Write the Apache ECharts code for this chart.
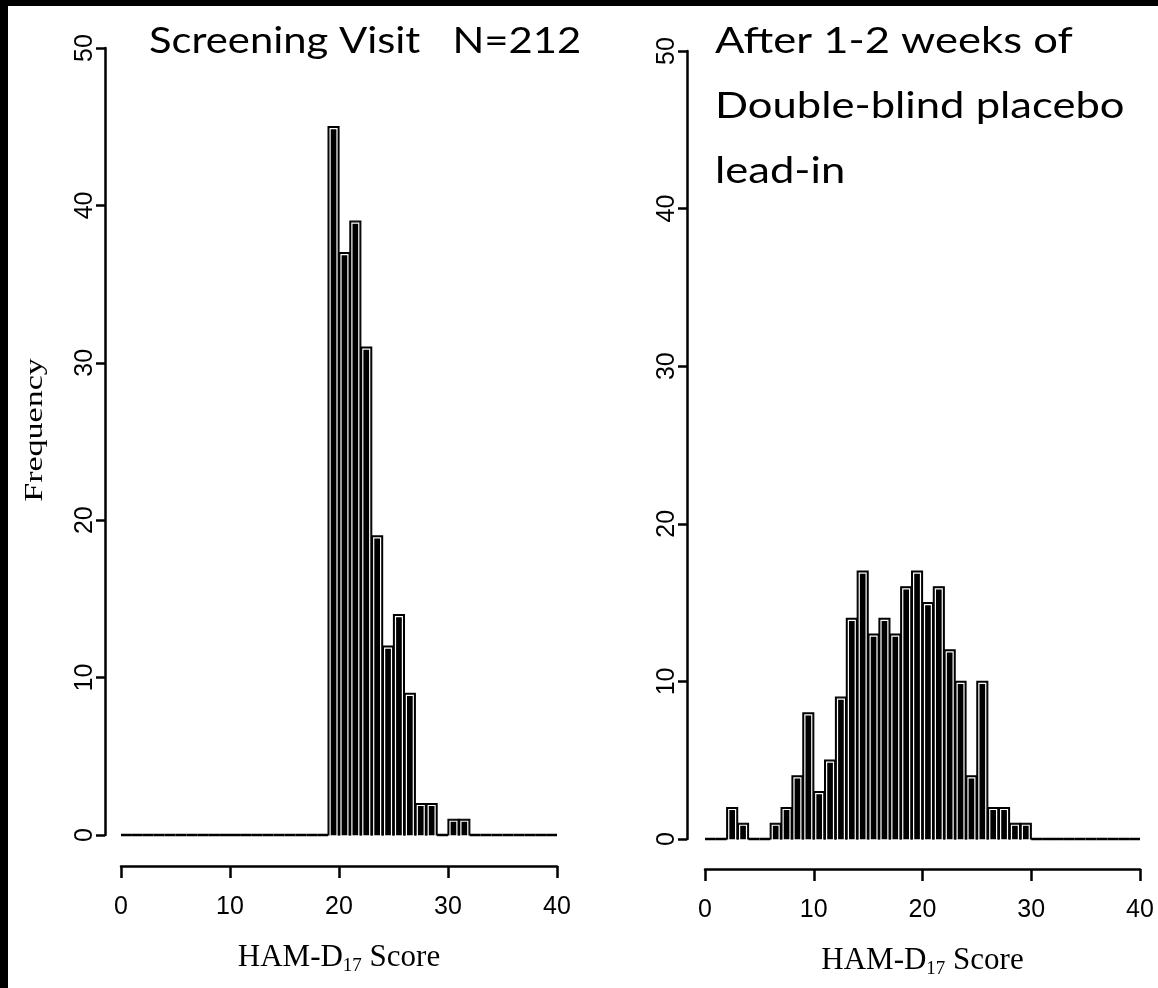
<!DOCTYPE html>
<html>
<head>
<meta charset="utf-8">
<script src="https://cdn.jsdelivr.net/npm/echarts@6/dist/echarts.min.js"></script>
<style>
  html, body { margin: 0; padding: 0; background: #fff; }
  #chart { width: 1158px; height: 988px; }
</style>
</head>
<body>
<div id="chart"></div>
<script>
// Histogram bins of width 1 on the HAM-D17 score, [k, k+1)
const binStarts = [0, 1, 2, 3, 4, 5, 6, 7, 8, 9, 10, 11, 12, 13, 14, 15, 16, 17, 18, 19,
                   20, 21, 22, 23, 24, 25, 26, 27, 28, 29, 30, 31, 32, 33, 34, 35, 36, 37, 38, 39];

// Frequency per bin at the screening visit (N=212)
const screeningCounts = [0, 0, 0, 0, 0, 0, 0, 0, 0, 0, 0, 0, 0, 0, 0, 0, 0, 0, 0, 45,
                         37, 39, 31, 19, 12, 14, 9, 2, 2, 0, 1, 1, 0, 0, 0, 0, 0, 0, 0, 0];

// Frequency per bin after the 1-2 week placebo lead-in
const leadInCounts = [0, 0, 2, 1, 0, 0, 1, 2, 4, 8, 3, 5, 9, 14, 17, 13, 14, 13, 16, 17,
                      15, 16, 12, 10, 4, 10, 2, 2, 1, 1, 0, 0, 0, 0, 0, 0, 0, 0, 0, 0];

const xTicks = [0, 10, 20, 30, 40];
const yTicks = [0, 10, 20, 30, 40, 50];

const leftTitle = 'Screening Visit   N=212';
const rightTitle = 'After 1-2 weeks of\nDouble-blind placebo\nlead-in';
const yAxisTitle = 'Frequency';

const chart = echarts.init(document.getElementById('chart'), null, { renderer: 'canvas' });

// Each bin is a black bar with a thin white inner edge; empty bins show as a baseline stroke.
function renderBin(params, api) {
  const start = api.value(0);
  const count = api.value(1);
  const p0 = api.coord([start, 0]);
  const p1 = api.coord([start + 1, count]);
  const left = p0[0], right = p1[0], bottom = p0[1], top = p1[1];
  if (count === 0) {
    return {
      type: 'line',
      shape: { x1: left, y1: bottom, x2: right, y2: bottom },
      style: { stroke: '#000', lineWidth: 2.5 }
    };
  }
  return {
    type: 'group',
    children: [
      {
        type: 'rect',
        shape: { x: left, y: top, width: right - left, height: bottom - top },
        style: { fill: '#000', stroke: '#000', lineWidth: 1.2 }
      },
      {
        type: 'rect',
        shape: { x: left + 2, y: top + 2, width: right - left - 4, height: bottom - top - 1 },
        style: { fill: null, stroke: '#fff', lineWidth: 1.2 }
      }
    ]
  };
}

const tickFont = { fontFamily: 'Liberation Sans', fontSize: 25, color: '#000' };
const nameRich = {
  a: { fontFamily: 'Liberation Serif', fontSize: 31, color: '#000', lineHeight: 34, verticalAlign: 'top' },
  s: { fontFamily: 'Liberation Serif', fontSize: 19, color: '#000', lineHeight: 20, verticalAlign: 'bottom', padding: [14, 0, 0, 0] }
};

function xAxisFor(gridIndex, offset) {
  return {
    type: 'value',
    gridIndex: gridIndex,
    min: xTicks[0],
    max: xTicks[xTicks.length - 1],
    interval: xTicks[1] - xTicks[0],
    offset: offset,
    name: '{a|HAM-D}{s|17}{a| Score}',
    nameLocation: 'middle',
    nameGap: 76,
    nameTextStyle: { rich: nameRich },
    axisLine: { show: true, onZero: false, lineStyle: { color: '#000', width: 2.5 } },
    axisTick: { show: true, length: 12, lineStyle: { color: '#000', width: 2.5 } },
    axisLabel: Object.assign({ margin: 29 }, tickFont),
    splitLine: { show: false }
  };
}

function yAxisFor(gridIndex, offset) {
  return {
    type: 'value',
    gridIndex: gridIndex,
    min: yTicks[0],
    max: yTicks[yTicks.length - 1],
    interval: yTicks[1] - yTicks[0],
    offset: offset,
    axisLine: { show: true, onZero: false, lineStyle: { color: '#000', width: 2.5 } },
    axisTick: { show: true, length: 9, lineStyle: { color: '#000', width: 2.5 } },
    axisLabel: Object.assign({ rotate: 90, margin: 7 }, tickFont),
    splitLine: { show: false }
  };
}

function binData(counts) {
  return binStarts.map(function (s, i) { return [s, counts[i]]; });
}

const option = {
  backgroundColor: '#fff',
  animation: false,
  grid: [
    { left: 121, top: 48, width: 436, height: 787 },
    { left: 705, top: 51, width: 435, height: 788 }
  ],
  xAxis: [xAxisFor(0, 31), xAxisFor(1, 30)],
  yAxis: [yAxisFor(0, 16), yAxisFor(1, 18)],
  series: [
    {
      type: 'custom',
      xAxisIndex: 0,
      yAxisIndex: 0,
      renderItem: renderBin,
      encode: { x: 0, y: 1 },
      data: binData(screeningCounts)
    },
    {
      type: 'custom',
      xAxisIndex: 1,
      yAxisIndex: 1,
      renderItem: renderBin,
      encode: { x: 0, y: 1 },
      data: binData(leadInCounts)
    }
  ],
  graphic: [
    { type: 'rect', left: 0, top: 0, shape: { width: 8, height: 988 }, style: { fill: '#000' }, z: 100 },
    { type: 'rect', left: 0, top: 0, shape: { width: 1158, height: 6 }, style: { fill: '#000' }, z: 100 },
    {
      type: 'text',
      x: 35, y: 430,
      rotation: Math.PI / 2,
      scaleY: 0.75,
      style: {
        text: yAxisTitle,
        font: '34px "Liberation Serif"',
        textAlign: 'center', textVerticalAlign: 'middle',
        align: 'center', verticalAlign: 'middle',
        fill: '#000'
      }
    },
    {
      type: 'text',
      x: 149, y: 9,
      scaleX: 1.16,
      style: {
        text: leftTitle,
        font: '36px Lato',
        lineHeight: 65,
        textAlign: 'left', textVerticalAlign: 'top',
        align: 'left', verticalAlign: 'top',
        fill: '#000'
      }
    },
    {
      type: 'text',
      x: 715, y: 9,
      scaleX: 1.21,
      style: {
        text: rightTitle,
        font: '36px Lato',
        lineHeight: 65,
        textAlign: 'left', textVerticalAlign: 'top',
        align: 'left', verticalAlign: 'top',
        fill: '#000'
      }
    }
  ]
};

chart.setOption(option);
</script>
</body>
</html>
